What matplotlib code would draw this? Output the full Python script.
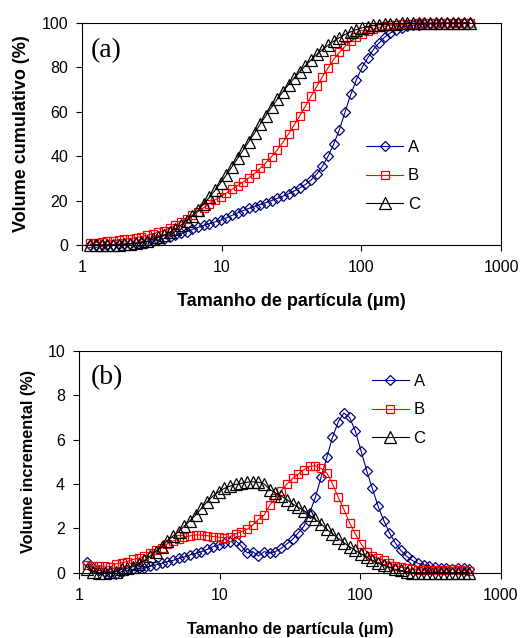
import matplotlib
matplotlib.use("Agg")
import matplotlib.pyplot as plt
from matplotlib.ticker import NullLocator

plt.rcParams['font.family'] = ['Liberation Sans', 'DejaVu Sans']

# particle size classes (um)
sizes = [1.149, 1.261, 1.385, 1.520, 1.668, 1.832, 2.011, 2.207, 2.423, 2.660,
         2.920, 3.205, 3.519, 3.863, 4.240, 4.655, 5.110, 5.610, 6.158, 6.760,
         7.421, 8.147, 8.943, 9.818, 10.78, 11.83, 12.99, 14.26, 15.65, 17.18,
         18.86, 20.71, 22.73, 24.95, 27.39, 30.07, 33.01, 36.24, 39.78, 43.67,
         47.94, 52.62, 57.77, 63.41, 69.61, 76.42, 83.89, 92.09, 101.1, 111.0,
         121.8, 133.7, 146.8, 161.2, 176.9, 194.2, 213.2, 234.1, 256.9, 282.1,
         309.6, 339.9, 373.1, 409.6, 449.7, 493.6, 541.9, 594.9]

# (a) cumulative volume (%)
cum_A = [0.0, 0.05, 0.1, 0.15, 0.2, 0.3, 0.4, 0.6, 0.8, 1.1,
         1.4, 1.8, 2.3, 2.9, 3.6, 4.4, 5.2, 6.0, 7.0, 7.9,
         8.8, 9.6, 10.4, 11.2, 12.2, 13.3, 14.5, 15.5, 16.5, 17.3,
         18.2, 19.1, 20.0, 21.0, 22.0, 23.1, 24.3, 25.7, 27.3, 29.3,
         32.0, 35.5, 40.0, 45.5, 52.0, 60.0, 67.8, 74.5, 80.0, 84.3,
         88.0, 91.0, 93.6, 95.5, 96.9, 97.9, 98.6, 99.0, 99.3, 99.5,
         99.6, 99.7, 99.8, 99.8, 99.9, 99.9, 100.0, 100.0]
cum_B = [0.8, 1.1, 1.4, 1.7, 2.0, 2.3, 2.6, 2.9, 3.3, 3.8,
         4.4, 5.0, 5.7, 6.5, 7.6, 8.8, 10.2, 11.7, 13.3, 15.0,
         16.8, 18.6, 20.3, 21.8, 23.4, 25.0, 26.7, 28.4, 30.2, 32.2,
         34.5, 37.0, 39.8, 42.8, 46.2, 50.0, 54.0, 58.2, 62.6, 67.0,
         71.5, 75.8, 79.8, 83.6, 86.8, 89.5, 91.7, 93.5, 95.0, 96.2,
         97.2, 98.0, 98.5, 99.0, 99.3, 99.5, 99.6, 99.7, 99.8, 99.8,
         99.9, 99.9, 100.0, 100.0, 100.0, 100.0, 100.0, 100.0]
cum_C = [0.0, 0.0, 0.0, 0.0, 0.1, 0.2, 0.3, 0.5, 0.8, 1.2,
         1.7, 2.5, 3.4, 4.5, 5.8, 7.3, 9.0, 10.9, 13.1, 15.6,
         18.4, 21.4, 24.6, 28.0, 31.5, 35.2, 39.0, 42.8, 46.6, 50.4,
         54.4, 58.3, 62.0, 65.6, 69.0, 72.2, 75.2, 78.0, 80.8, 83.4,
         85.8, 88.0, 90.0, 91.8, 93.4, 94.8, 96.0, 97.0, 97.8, 98.4,
         98.9, 99.2, 99.4, 99.6, 99.7, 99.8, 99.8, 99.9, 100.0, 100.0,
         100.0, 100.0, 100.0, 100.0, 100.0, 100.0, 100.0, 100.0]

# (b) incremental volume (%)
inc_A = [0.5, 0.2, 0.1, 0.05, 0.0, -0.05, 0.05, 0.1, 0.15, 0.2,
         0.2, 0.3, 0.35, 0.42, 0.5, 0.55, 0.65, 0.7, 0.8, 0.87,
         0.95, 1.05, 1.17, 1.25, 1.33, 1.4, 1.45, 1.2, 0.9, 0.95,
         0.75, 0.95, 0.88, 0.95, 1.1, 1.3, 1.5, 1.8, 2.1, 2.7,
         3.4, 4.3, 5.2, 6.1, 6.8, 7.2, 7.0, 6.4, 5.5, 4.6,
         3.8, 3.0, 2.35, 1.8, 1.35, 1.0, 0.75, 0.55, 0.42, 0.35,
         0.3, 0.25, 0.22, 0.2, 0.18, 0.2, 0.2, 0.15]
inc_B = [0.35, 0.3, 0.3, 0.3, 0.25, 0.4, 0.45, 0.5, 0.6, 0.65,
         0.75, 0.88, 1.0, 1.12, 1.3, 1.42, 1.52, 1.6, 1.66, 1.7,
         1.7, 1.67, 1.63, 1.6, 1.58, 1.62, 1.75, 1.85, 1.95, 2.15,
         2.4, 2.6, 3.05, 3.35, 3.7, 4.0, 4.25, 4.45, 4.65, 4.8,
         4.82, 4.7, 4.5, 4.0, 3.4, 2.85, 2.25, 1.75, 1.3, 0.95,
         0.75, 0.65, 0.55, 0.42, 0.3, 0.25, 0.2, 0.15, 0.12, 0.1,
         0.1, 0.12, 0.1, 0.12, 0.15, 0.12, 0.1, 0.08]
inc_C = [0.15, 0.05, 0.0, 0.0, 0.02, 0.05, 0.15, 0.2, 0.27, 0.4,
         0.55, 0.75, 0.95, 1.15, 1.45, 1.65, 1.85, 2.1, 2.35, 2.6,
         2.9, 3.2, 3.45, 3.65, 3.8, 3.9, 3.98, 4.03, 4.08, 4.1,
         4.08, 4.0, 3.75, 3.6, 3.45, 3.3, 3.1, 2.95, 2.8, 2.6,
         2.4, 2.2, 1.95, 1.75, 1.55, 1.35, 1.17, 1.0, 0.85, 0.7,
         0.55, 0.42, 0.33, 0.25, 0.15, 0.1, 0.05, 0.0, 0.0, 0.0,
         0.0, 0.0, 0.0, 0.0, 0.0, 0.0, 0.0, 0.0]

labels = ["A", "B", "C"]
colors = {"A": "#000080", "B": "#ff0000", "C": "#000000"}
markers = {"A": ("D", 5.0), "B": ("s", 5.6), "C": ("^", 8.0)}

fig = plt.figure(figsize=(5.2, 6.38), dpi=100)
ax1 = fig.add_axes([0.1577, 0.616, 0.806, 0.348])
ax2 = fig.add_axes([0.1519, 0.1024, 0.8115, 0.3475])


def draw(ax, data, lab_size, xpad):
    for lab, ys in zip(labels, data):
        m, ms = markers[lab]
        ax.plot(sizes, ys, color=colors[lab], lw=0.8, marker=m, ms=ms,
                mfc="none", mec=colors[lab], mew=0.9, label=lab, clip_on=False)
    ax.set_xscale("log")
    ax.set_xlim(1, 1000)
    ax.set_xticks([1, 10, 100, 1000])
    ax.set_xticklabels(["1", "10", "100", "1000"])
    ax.xaxis.set_minor_locator(NullLocator())
    ax.tick_params(direction="out", length=4, width=0.8, labelsize=11.5)
    ax.tick_params(axis="x", pad=7)
    ax.tick_params(axis="y", pad=6)
    for s in ax.spines.values():
        s.set_linewidth(0.8)
    ax.set_xlabel("Tamanho de partícula (μm)", fontsize=lab_size,
                  fontweight="bold", labelpad=xpad)
    ax.legend(frameon=False, fontsize=12, handlelength=2.2, handletextpad=0.3,
              labelspacing=0.82, borderpad=0, borderaxespad=0, loc="center left")


draw(ax1, [cum_A, cum_B, cum_C], 13, 13)
ax1.set_ylim(0, 100)
ax1.set_yticks([0, 20, 40, 60, 80, 100])
ax1.set_ylabel("Volume cumulativo (%)", fontsize=13, fontweight="bold", labelpad=8)
ax1.text(0.021, 0.875, "(a)", transform=ax1.transAxes, fontsize=20,
         family="Liberation Serif", va="center", ha="left")
ax1.get_legend().set_bbox_to_anchor((0.678, 0.311))

draw(ax2, [inc_A, inc_B, inc_C], 11.7, 14)
ax2.set_ylim(0, 10)
ax2.set_yticks([0, 2, 4, 6, 8, 10])
ax2.set_ylabel("Volume incremental (%)", fontsize=11.7, fontweight="bold", labelpad=8)
ax2.text(0.028, 0.878, "(b)", transform=ax2.transAxes, fontsize=20,
         family="Liberation Serif", va="center", ha="left")
ax2.get_legend().set_bbox_to_anchor((0.694, 0.734))

fig.savefig("out.png", dpi=100)
